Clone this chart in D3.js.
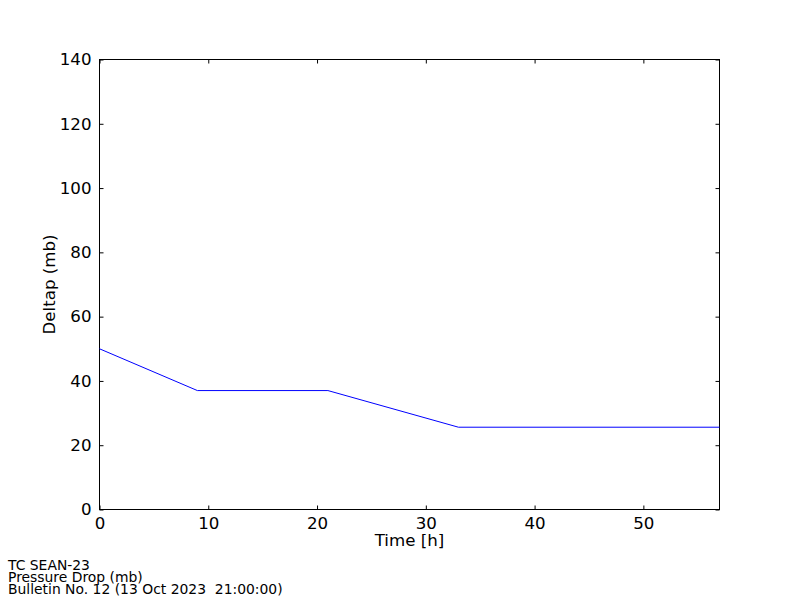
<!DOCTYPE html>
<html><head><meta charset="utf-8">
<script src="https://cdn.jsdelivr.net/npm/d3@7"></script>
<style>body{margin:0;background:#fff}svg{display:block}text{font-family:"DejaVu Sans",sans-serif}</style>
</head><body><svg id="c" width="800" height="600"></svg>
<script>
const hours = [0, 9, 21, 33, 57];
const deltap = [50, 37, 37, 25.6, 25.6];
const xTicks = [0, 10, 20, 30, 40, 50];
const yTicks = [0, 20, 40, 60, 80, 100, 120, 140];
const footer = ["TC SEAN-23", "Pressure Drop (mb)", "Bulletin No. 12 (13 Oct 2023  21:00:00)"];

const svg = d3.select("#c");
const L = 99.5, R = 719.5, T = 59.5, B = 509.5;
const x = d3.scaleLinear().domain([0, 57]).range([L, R]);
const y = d3.scaleLinear().domain([0, 140]).range([B, T]);
const fs = "16.67px";

svg.append("rect").attr("width", 800).attr("height", 600).attr("fill", "#fff");

const tl = 4;
const gx = svg.append("g").attr("transform", `translate(0,${B})`).call(d3.axisBottom(x).tickValues(xTicks).tickSizeInner(-tl).tickSizeOuter(0).tickPadding(8));
const gxt = svg.append("g").attr("transform", `translate(0,${T})`).call(d3.axisTop(x).tickValues(xTicks).tickSizeInner(-tl).tickSizeOuter(0).tickFormat(""));
const gy = svg.append("g").attr("transform", `translate(${L},0)`).call(d3.axisLeft(y).tickValues(yTicks).tickSizeInner(-tl).tickSizeOuter(0).tickPadding(8));
const gyr = svg.append("g").attr("transform", `translate(${R},0)`).call(d3.axisRight(y).tickValues(yTicks).tickSizeInner(-tl).tickSizeOuter(0).tickFormat(""));
[gx, gxt, gy, gyr].forEach(g => {
  g.select(".domain").remove();
  g.selectAll(".tick line").attr("stroke", "#000");
  g.selectAll(".tick text").attr("fill", "#000").style("font-size", fs).style("font-family", "DejaVu Sans");
});

svg.append("rect").attr("x", L).attr("y", T).attr("width", R - L).attr("height", B - T)
  .attr("fill", "none").attr("stroke", "#000").attr("stroke-width", 1);

const line = d3.line().x((d, i) => x(hours[i])).y(d => y(d));
svg.append("path").datum(deltap).attr("d", line).attr("fill", "none").attr("stroke", "#0000ff").attr("stroke-width", 1);

svg.append("text").attr("x", (L + R) / 2).attr("y", 546).attr("text-anchor", "middle").style("font-size", fs).text("Time [h]");
svg.append("text").attr("transform", `translate(55,${(T + B) / 2}) rotate(-90)`).attr("text-anchor", "middle").style("font-size", fs).text("Deltap (mb)");

footer.forEach((t, i) => {
  svg.append("text").attr("x", 8).attr("y", 570 + i * 12).style("font-size", "13.9px").style("white-space", "pre").attr("xml:space", "preserve").text(t);
});
</script></body></html>
